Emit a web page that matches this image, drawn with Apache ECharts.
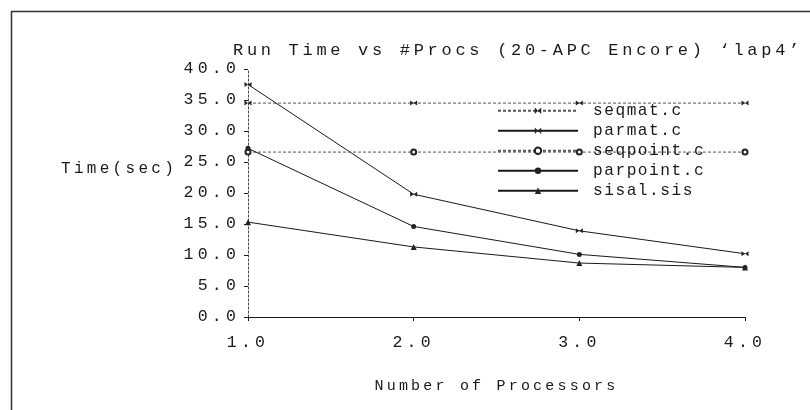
<!DOCTYPE html>
<html>
<head>
<meta charset="utf-8">
<script src="https://cdn.jsdelivr.net/npm/echarts@6/dist/echarts.min.js"></script>
<style>
html,body{margin:0;padding:0;background:#fff;}
#chart{width:810px;height:410px;}
</style>
</head>
<body>
<div id="chart"></div>
<script>
// ---- data ----
const procs = [1, 2, 3, 4];
const seqmat = [34.5, 34.5, 34.5, 34.5];
const parmat = [37.5, 19.8, 13.9, 10.2];
const seqpoint = [26.6, 26.6, 26.6, 26.6];
const parpoint = [27.2, 14.6, 10.1, 8.0];
const sisal = [15.3, 11.3, 8.7, 8.0];
const seriesNames = ['seqmat.c', 'parmat.c', 'seqpoint.c', 'parpoint.c', 'sisal.sis'];
const titleText = "Run Time vs #Procs (20-APC Encore) \u2018lap4\u2019";
const xName = 'Number of Processors';
const yName = 'Time(sec)';

// wide typewriter-like spacing for the monospace text
(function () {
  const P = CanvasRenderingContext2D.prototype;
  if (!('letterSpacing' in P)) return;
  const map = { '17px': '3.7px', '16.5px': '4.2px', '16px': '3.3px', '15px': '3.2px', '16.2px': '1.5px' };
  function ls(ctx) {
    const m = /(\d+(?:\.\d+)?px)/.exec(ctx.font);
    ctx.letterSpacing = (m && map[m[1]]) || '0px';
  }
  const f = P.fillText, s = P.strokeText, mt = P.measureText;
  P.fillText = function () { ls(this); return f.apply(this, arguments); };
  P.strokeText = function () { ls(this); return s.apply(this, arguments); };
  P.measureText = function () { ls(this); return mt.apply(this, arguments); };
})();

const FONT = '"Liberation Mono", "DejaVu Sans Mono", monospace';
const INK = '#1a1a1a';
const bowtie = 'path://M0,0L5,3L0,6ZM10,0L5,3L10,6Z';

function pairs(arr) { return procs.map((x, i) => [x, arr[i]]); }

const chart = echarts.init(document.getElementById('chart'), null, { renderer: 'canvas' });
chart.setOption({
  animation: false,
  backgroundColor: '#fff',
  title: {
    text: titleText,
    left: 228, top: 35,
    textStyle: { fontFamily: FONT, fontSize: 17, fontWeight: 'normal', color: INK }
  },
  legend: {
    orient: 'vertical',
    left: 497, top: 102, padding: 0,
    itemWidth: 80, itemHeight: 8, itemGap: 2.5,
    data: seriesNames,
    textStyle: { fontFamily: FONT, fontSize: 16.2, color: INK, padding: [0, 0, 0, 10] },
    inactiveColor: '#999'
  },
  grid: { left: 248, right: 65, top: 69, bottom: 93, containLabel: false },
  xAxis: {
    type: 'value', min: 1, max: 4, interval: 1,
    name: xName, nameLocation: 'middle', nameGap: 60,
    nameTextStyle: { fontFamily: FONT, fontSize: 15, color: INK },
    axisLine: { show: true, lineStyle: { color: INK, width: 1 } },
    axisTick: { show: true, length: 4, inside: false, lineStyle: { color: INK } },
    axisLabel: { fontFamily: FONT, fontSize: 16.5, color: INK, margin: 15, formatter: v => v.toFixed(1) },
    splitLine: { show: false }
  },
  yAxis: {
    type: 'value', min: 0, max: 40, interval: 5,
    axisLine: { show: true, lineStyle: { color: '#444', width: 1, type: [2, 2] } },
    axisTick: { show: true, length: 4, lineStyle: { color: INK } },
    axisLabel: { fontFamily: FONT, fontSize: 16.5, color: INK, margin: 8, formatter: v => v.toFixed(1) },
    splitLine: { show: false }
  },
  graphic: [
    { type: 'rect', left: 9, top: 9, shape: { width: 820, height: 420 }, style: { fill: 'none', stroke: '#333', lineWidth: 1.5 }, silent: true },
    { type: 'text', left: 61, top: 159, style: { text: yName, font: '16px ' + FONT, fill: INK } }
  ],
  series: [
    { name: seriesNames[0], type: 'line', data: pairs(seqmat), symbol: bowtie, symbolSize: [7, 5],
      lineStyle: { color: '#555', width: 1, type: [3, 2] }, itemStyle: { color: '#222' } },
    { name: seriesNames[1], type: 'line', data: pairs(parmat), symbol: bowtie, symbolSize: [7, 5],
      lineStyle: { color: INK, width: 1 }, itemStyle: { color: '#222' } },
    { name: seriesNames[2], type: 'line', data: pairs(seqpoint), symbol: 'emptyCircle', symbolSize: 5,
      lineStyle: { color: '#555', width: 1, type: [3, 2] }, itemStyle: { color: '#222', borderWidth: 1.2 } },
    { name: seriesNames[3], type: 'line', data: pairs(parpoint), symbol: 'circle', symbolSize: 5,
      lineStyle: { color: INK, width: 1 }, itemStyle: { color: '#222' } },
    { name: seriesNames[4], type: 'line', data: pairs(sisal), symbol: 'triangle', symbolSize: 6,
      lineStyle: { color: INK, width: 1 }, itemStyle: { color: '#222' } }
  ]
});
</script>
</body>
</html>
